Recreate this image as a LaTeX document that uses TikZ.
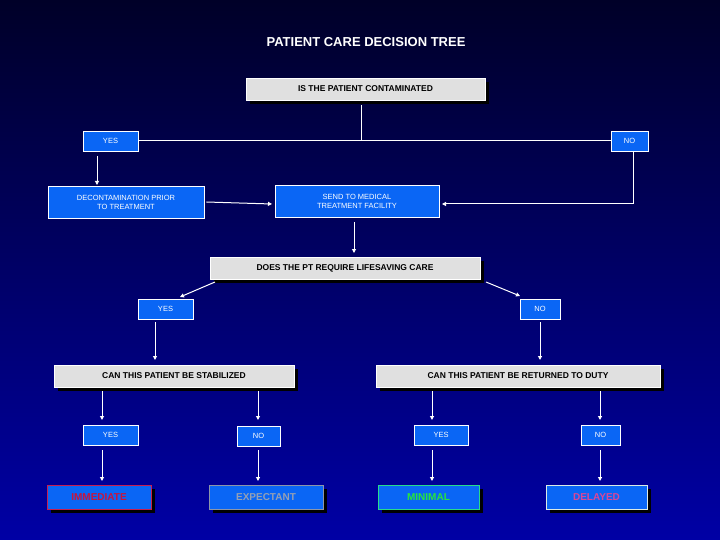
\documentclass[tikz,border=0pt]{standalone}
\usepackage{fontspec}
\setmainfont{Liberation Sans}
\usetikzlibrary{arrows.meta,shadows}
\definecolor{bbox}{HTML}{0A66F5}
\definecolor{gbox}{HTML}{E0E0E0}
\begin{document}
\begin{tikzpicture}[x=1pt,y=-1pt,
  blue/.style={draw=white,fill=bbox,line width=0.8pt,text=white,font=\fontsize{7.5}{9}\selectfont,align=center,inner sep=0pt},
  gray/.style={fill=gbox,draw=white,line width=0.5pt,text=black,font=\bfseries\fontsize{8.5}{10}\selectfont,inner sep=0pt,drop shadow={shadow xshift=4pt,shadow yshift=-4pt,fill=black,opacity=1}},
  fin/.style={fill=bbox,line width=1pt,font=\bfseries\fontsize{10}{12}\selectfont,inner sep=0pt,drop shadow={shadow xshift=4pt,shadow yshift=-4pt,fill=black,opacity=1}},
  ln/.style={white,line width=1pt},
  arr/.style={ln,-{Triangle[length=4pt,width=4pt]}}]
\useasboundingbox (0,0) rectangle (720,540);
\shade[top color={rgb,255:red,0;green,0;blue,40},bottom color={rgb,255:red,0;green,0;blue,165}] (0,0) rectangle (720,540);
\node[text=white,font=\bfseries\fontsize{13}{15}\selectfont] (title) at (366,42) {PATIENT CARE DECISION TREE};
\node[gray,minimum width=239pt,minimum height=22pt] (q1) at (365.5,89) {IS THE PATIENT CONTAMINATED};
\node[blue,minimum width=55pt,minimum height=20pt] (y1) at (110.5,141) {YES};
\node[blue,minimum width=37pt,minimum height=20pt] (n1) at (629.5,141) {NO};
\node[blue,minimum width=156pt,minimum height=32pt] (dec) at (126,202) {DECONTAMINATION PRIOR\\TO TREATMENT};
\node[blue,minimum width=164pt,minimum height=32pt] (send) at (357,201) {SEND TO MEDICAL\\TREATMENT FACILITY};
\coordinate (j1) at (361,141);
\draw[ln] (361,105) -- (j1);
\draw[ln] (y1.east) -- (n1.west);
\draw[arr] (97,156) -- (97,185);
\draw[arr] (dec.east) ++(2,0) -- (272,204);
\draw[ln] (n1.south) ++(3,0) coordinate (n1b);
\draw[arr] (633,151) -- (633,204) -- (442,204);
\draw[arr] (354,222) -- (354,253);
\node[gray,minimum width=270pt,minimum height=22pt] (q2) at (345,268) {DOES THE PT REQUIRE LIFESAVING CARE};
\node[blue,minimum width=55pt,minimum height=20pt] (y2) at (165.5,309) {YES};
\node[blue,minimum width=40pt,minimum height=20pt] (n2) at (540,309) {NO};
\draw[arr] (215,282) -- (180,297);
\draw[arr] (486,282) -- (520,296);
\draw[arr] (155,322) -- (155,360);
\draw[arr] (540,322) -- (540,360);
\node[gray,minimum width=240pt,minimum height=22pt] (q3) at (174,376) {CAN THIS PATIENT BE STABILIZED};
\node[gray,minimum width=284pt,minimum height=22pt] (q4) at (518,376) {CAN THIS PATIENT BE RETURNED TO DUTY};
\node[blue,minimum width=55pt,minimum height=20pt] (y3) at (110.5,435) {YES};
\node[blue,minimum width=43pt,minimum height=20pt] (n3) at (258.5,436) {NO};
\node[blue,minimum width=54pt,minimum height=20pt] (y4) at (441,435) {YES};
\node[blue,minimum width=39pt,minimum height=20pt] (n4) at (600.5,435) {NO};
\foreach \x in {102,258,432,600}{
  \draw[arr] (\x,391) -- (\x,420);
  \draw[arr] (\x,450) -- (\x,481);}
\node[fin,draw={rgb,255:red,200;green,30;blue,80},text={rgb,255:red,200;green,20;blue,60},minimum width=104pt,minimum height=24pt] (imm) at (99,497) {IMMEDIATE};
\node[fin,draw={rgb,255:red,140;green,150;blue,170},text={rgb,255:red,150;green,160;blue,180},minimum width=114pt,minimum height=24pt] (exp) at (266,497) {EXPECTANT};
\node[fin,draw={rgb,255:red,40;green,220;blue,140},text={rgb,255:red,40;green,230;blue,60},minimum width=101pt,minimum height=24pt] (min) at (428.5,497) {MINIMAL};
\node[fin,draw={rgb,255:red,220;green,235;blue,230},text={rgb,255:red,220;green,70;blue,150},minimum width=101pt,minimum height=24pt] (del) at (596.5,497) {DELAYED};
\end{tikzpicture}
\end{document}
